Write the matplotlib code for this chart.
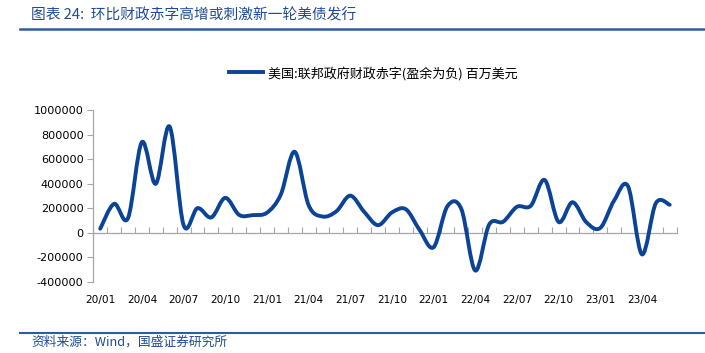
import matplotlib
matplotlib.use('Agg')
import matplotlib.pyplot as plt
from matplotlib.path import Path
from matplotlib.patches import PathPatch

plt.rcParams['font.family'] = ['Noto Sans CJK SC', 'DejaVu Sans']

# US federal deficit (surplus negative), million USD, 2020/01 - 2023/06
deficit_2020 = [32600, 235300, 119200, 737900, 398800, 864100,
                63000, 200100, 124600, 284100, 145300, 143600]
deficit_2021 = [162800, 310900, 659600, 225600, 132000, 174200,
                302000, 170600, 61500, 165000, 191300, 21300]
deficit_2022 = [-118700, 216600, 192700, -308200, 66200, 88800,
                211100, 219600, 429700, 87800, 248500, 85000]
deficit_2023 = [38800, 262400, 378100, -176200, 240300, 227800]
deficit = deficit_2020 + deficit_2021 + deficit_2022 + deficit_2023

tick_labels = ['20/01', '20/04', '20/07', '20/10', '21/01', '21/04', '21/07',
               '21/10', '22/01', '22/04', '22/07', '22/10', '23/01', '23/04']
y_ticks = [-400000, -200000, 0, 200000, 400000, 600000, 800000, 1000000]

title = '图表 24:  环比财政赤字高增或刺激新一轮美债发行'
legend_label = '美国:联邦政府财政赤字(盈余为负) 百万美元'
source = '资料来源：Wind，国盛证券研究所'

line_color = '#0B4397'
text_blue = '#1F4A96'
rule_blue = '#2E5AA8'
axis_gray = '#A6A6A6'

fig = plt.figure(figsize=(7.05, 3.53), dpi=100)
ax = fig.add_axes([0.1323, 0.2017, 0.8275, 0.4867])

# smoothed line (Excel-style Catmull-Rom bezier through the points)
n = len(deficit)
xs = list(range(n))
verts = [(xs[0], deficit[0])]
codes = [Path.MOVETO]
for i in range(n - 1):
    p0 = (xs[max(i - 1, 0)], deficit[max(i - 1, 0)])
    p1 = (xs[i], deficit[i])
    p2 = (xs[i + 1], deficit[i + 1])
    p3 = (xs[min(i + 2, n - 1)], deficit[min(i + 2, n - 1)])
    c1 = (p1[0] + (p2[0] - p0[0]) / 6, p1[1] + (p2[1] - p0[1]) / 6)
    c2 = (p2[0] - (p3[0] - p1[0]) / 6, p2[1] - (p3[1] - p1[1]) / 6)
    verts += [c1, c2, p2]
    codes += [Path.CURVE4] * 3
ax.add_patch(PathPatch(Path(verts, codes), fill=False, edgecolor=line_color,
                       lw=2.8, capstyle='round', joinstyle='round', zorder=3))
ax.plot([], [], color=line_color, lw=2.8, label=legend_label)

ax.set_xlim(-0.5, n - 0.5)
ax.set_ylim(-400000, 1000000)
ax.set_yticks(y_ticks)
ax.set_yticklabels([str(v) for v in y_ticks], fontsize=8.1, family='DejaVu Sans')
ax.tick_params(axis='y', direction='out', length=4, color=axis_gray, width=0.8, pad=3)

ax.set_xticks(xs[::3])
ax.set_xticklabels(tick_labels, fontsize=7.6, family='DejaVu Sans')
ax.tick_params(axis='x', length=0, pad=9.5)

for s in ['top', 'right', 'bottom']:
    ax.spines[s].set_visible(False)
ax.spines['left'].set_color(axis_gray)
ax.spines['left'].set_linewidth(0.9)

# category axis drawn at zero, ticks between categories
zero_pos = (0 - (-400000)) / (1000000 - (-400000))
sec = ax.secondary_xaxis(zero_pos)
sec.set_xticks([x - 0.5 for x in range(n + 1)])
sec.set_xticklabels([])
sec.tick_params(axis='x', direction='in', length=4, color=axis_gray, width=0.8)
sec.spines['bottom'].set_color(axis_gray)
sec.spines['bottom'].set_linewidth(0.9)
sec.spines['top'].set_color(axis_gray)
sec.spines['top'].set_linewidth(0.9)

leg = fig.legend(loc='center left', bbox_to_anchor=(0.325, 0.793), frameon=False,
                 fontsize=9.4, handlelength=2.6, handletextpad=0.35,
                 borderaxespad=0, borderpad=0)

# header and footer
fig.text(0.044, 0.957, title, fontsize=10.6, color=text_blue, va='center', ha='left')
fig.add_artist(plt.Line2D([0.029, 1.0], [0.917, 0.917], color=rule_blue, lw=1.8,
                          transform=fig.transFigure))
fig.add_artist(plt.Line2D([0.029, 1.0], [0.056, 0.056], color=rule_blue, lw=1.5,
                          transform=fig.transFigure))
fig.text(0.045, 0.032, source, fontsize=9.2, color=text_blue, va='center', ha='left')

fig.savefig('out.png', dpi=100)
